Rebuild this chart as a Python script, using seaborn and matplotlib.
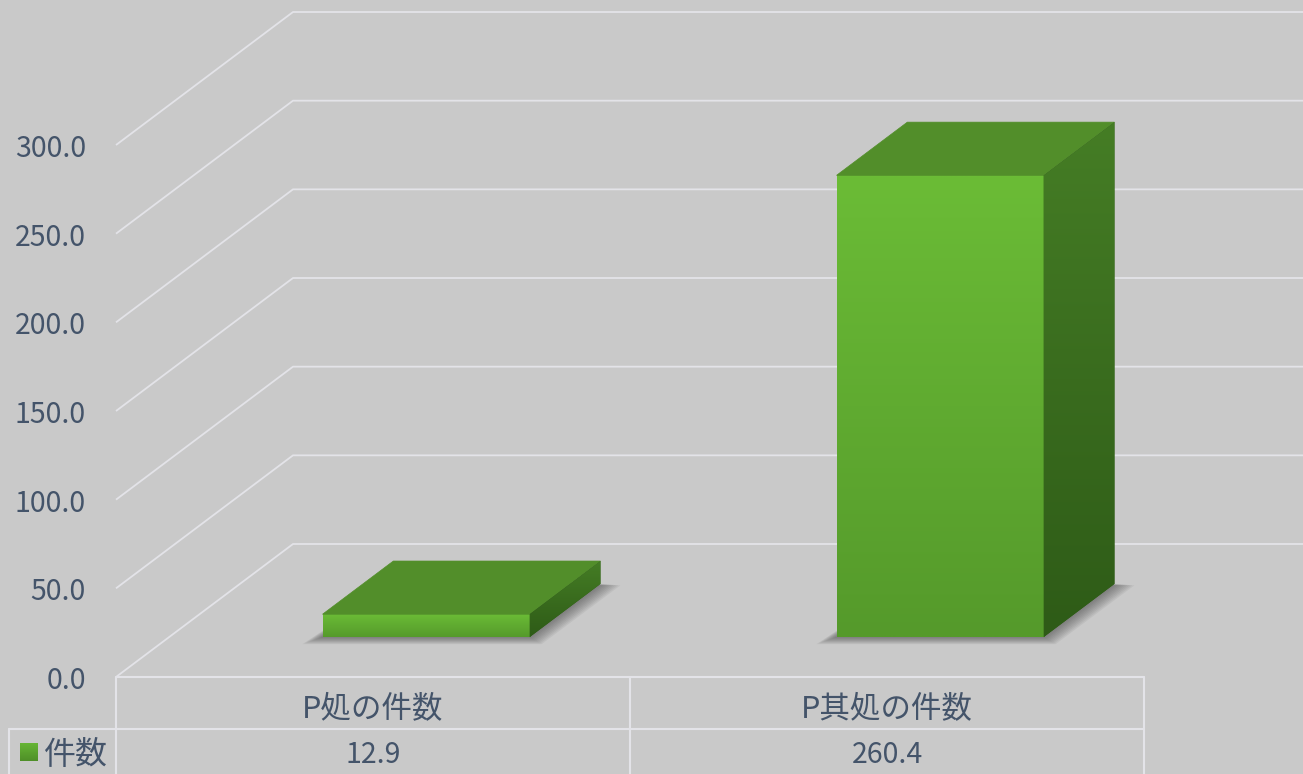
import numpy as np
import pandas as pd
import matplotlib
matplotlib.use("Agg")
import matplotlib.pyplot as plt
import seaborn as sns
from matplotlib.patches import Polygon
from matplotlib.colors import to_rgb

# ---------------- data ----------------
categories = ["P処の件数", "P其処の件数"]
values = [12.9, 260.4]
value_labels = ["12.9", "260.4"]
series_name = "件数"
y_ticks = [0, 50, 100, 150, 200, 250, 300]

# ---------------- style ----------------
sns.set_theme(style="white")
plt.rcParams['font.family'] = ['Noto Sans CJK JP', 'DejaVu Sans']

BG = "#C9C9C9"
GRID = "#E3E3E8"
TEXT = "#44546A"
FRONT_TOP, FRONT_BOT = "#6BBC36", "#559A2B"
TOP_FACE = "#528E2A"
SIDE_TOP, SIDE_BOT = "#457D25", "#2E5B17"

W_PX, H_PX = 1303, 774
fig = plt.figure(figsize=(W_PX / 100, H_PX / 100), dpi=100, facecolor=BG)
ax = fig.add_axes([0, 0, 1, 1])
ax.set_facecolor(BG)

# scale: pixels -> data units
X_FRONT0 = 116          # px of category axis start (front)
PX = 1 / 514.0          # data x per pixel
PY = 1 / 1.7733         # data y per pixel
Y0_PX = 677             # px of value 0 at front
XLIM = (-0.5 - X_FRONT0 * PX, -0.5 + (W_PX - X_FRONT0) * PX)
YLIM = ((Y0_PX - H_PX) * PY, Y0_PX * PY)

# oblique depth vector (full floor depth)
DX = 177 * PX
DY = 133 * PY
FD = 0.30   # bar front depth fraction
BD = 0.40   # bar depth fraction

df = pd.DataFrame({"cat": categories, "val": values})
sns.barplot(data=df, x="cat", y="val", width=0.403, color="#5FA830",
            saturation=1, linewidth=0, errorbar=None, ax=ax, zorder=5)

# ---------------- walls / gridlines ----------------
for v in y_ticks:
    ax.plot([-0.5, -0.5 + DX, XLIM[1]], [v, v + DY, v + DY],
            color=GRID, lw=1.3, zorder=1, solid_capstyle="butt")
    ax.text(-0.5 - 30 * PX, v - 4 * PY, f"{v:.1f}", ha="right", va="center",
            fontsize=20.5, color=TEXT)


def vgrad(top, bottom, n=128):
    return np.linspace(to_rgb(top), to_rgb(bottom), n)[:, None, :]


# ---------------- 3D bars ----------------
bdx, bdy = BD * DX, BD * DY
for p in list(ax.patches):
    x0 = p.get_x() + FD * DX
    y0 = FD * DY
    w = p.get_width()
    h = p.get_height()
    p.set_x(x0)
    p.set_y(y0)

    # soft shadow
    nl = 9
    for k in range(nl, 0, -1):
        ex = 20 * PX * k / nl
        ey = 7 * PY * k / nl
        shadow = Polygon([(x0 - ex, y0 - ey), (x0 + w + ex * 0.6, y0 - ey),
                          (x0 + w + bdx + ex, y0 + bdy - ey * 0.2),
                          (x0 + bdx, y0 + bdy)],
                         closed=True, facecolor="#3A3A3A", edgecolor="none",
                         alpha=0.07, zorder=3)
        ax.add_patch(shadow)

    # front face gradient
    ax.imshow(vgrad(FRONT_TOP, FRONT_BOT), extent=(x0, x0 + w, y0, y0 + h),
              origin="upper", aspect="auto", interpolation="bilinear", zorder=6)

    # top face
    top = Polygon([(x0, y0 + h), (x0 + w, y0 + h), (x0 + w + bdx, y0 + h + bdy),
                   (x0 + bdx, y0 + h + bdy)], closed=True,
                  facecolor=TOP_FACE, edgecolor=TOP_FACE, lw=0.5, zorder=6)
    ax.add_patch(top)

    # side face with gradient
    side = Polygon([(x0 + w, y0), (x0 + w + bdx, y0 + bdy),
                    (x0 + w + bdx, y0 + h + bdy), (x0 + w, y0 + h)], closed=True,
                   facecolor=SIDE_BOT, edgecolor="none", zorder=6)
    ax.add_patch(side)
    im = ax.imshow(vgrad(SIDE_TOP, SIDE_BOT),
                   extent=(x0 + w, x0 + w + bdx, y0, y0 + h + bdy),
                   origin="upper", aspect="auto", interpolation="bilinear", zorder=7)
    im.set_clip_path(side)

# ---------------- data table ----------------
row1 = (Y0_PX - 729) * PY
left_cell = -0.5 + (9 - X_FRONT0) * PX
n = len(categories)
ax.plot([-0.5, n - 0.5], [0, 0], color=GRID, lw=1.5, zorder=2)
ax.plot([left_cell, n - 0.5], [row1, row1], color=GRID, lw=1.5, zorder=2)
for xb in np.arange(-0.5, n, 1.0):
    ax.plot([xb, xb], [0, YLIM[0]], color=GRID, lw=1.5, zorder=2)
ax.plot([left_cell, left_cell], [row1, YLIM[0]], color=GRID, lw=1.5, zorder=2)

cat_y = (Y0_PX - 710) * PY
val_y = (Y0_PX - 755) * PY
for i, (c, lab) in enumerate(zip(categories, value_labels)):
    ax.text(i, cat_y, c, ha="center", va="center", fontsize=22, color=TEXT)
    ax.text(i, val_y, lab, ha="center", va="center", fontsize=20.5, color=TEXT)

# legend key in table
key_x = -0.5 + (20 - X_FRONT0) * PX
key_w = 18 * PX
key_h = 18 * PY
key_y = (Y0_PX - 761) * PY
ax.imshow(vgrad("#66B534", "#4F8F28"), extent=(key_x, key_x + key_w, key_y, key_y + key_h),
          origin="upper", aspect="auto", zorder=6)
ax.text(-0.5 + (44 - X_FRONT0) * PX, val_y, series_name, ha="left", va="center",
        fontsize=23, color=TEXT)

ax.set_xlim(*XLIM)
ax.set_ylim(*YLIM)
ax.axis("off")
fig.savefig("out.png", dpi=100, facecolor=BG)
